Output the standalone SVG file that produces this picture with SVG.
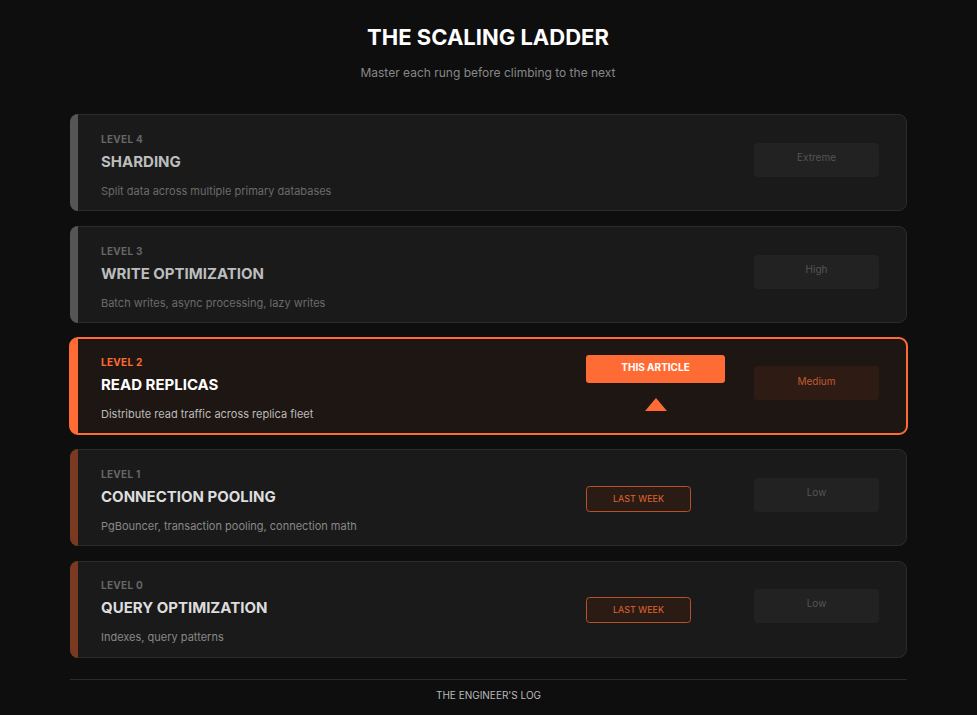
<svg xmlns="http://www.w3.org/2000/svg" width="977" height="715" viewBox="0 0 977 715">
<style>
text{font-family:Inter,"Liberation Sans",sans-serif}
.card{fill:#1a1a1a;stroke:#2c2c2c;stroke-width:1}
.lvl{font-size:10px;font-weight:700;fill:#666;letter-spacing:0.3px}
.ttl{font-size:15px;font-weight:700;fill:#bdbdbd}
.dsc{font-size:11px;fill:#6a6a6a}
.badge{fill:#222}
.btxt{font-size:10px;fill:#555;text-anchor:middle}
.lw{fill:#2a1c15;stroke:#b5522a;stroke-width:1}
.lwt{font-size:9px;fill:#e0652f;text-anchor:middle}
</style>
<defs>
<clipPath id="c4"><rect x="70" y="114" width="837" height="97" rx="8"/></clipPath>
<clipPath id="c3"><rect x="70" y="226" width="837" height="97" rx="8"/></clipPath>
<clipPath id="c2"><rect x="70" y="338" width="837" height="96" rx="8"/></clipPath>
<clipPath id="c1"><rect x="70" y="449" width="837" height="97" rx="8"/></clipPath>
<clipPath id="c0"><rect x="70" y="561" width="837" height="97" rx="8"/></clipPath>
</defs>
<rect width="977" height="715" fill="#0e0e0e"/>
<g id="header">
<text x="488" y="45" text-anchor="middle" font-size="22" font-weight="700" fill="#fff">THE SCALING LADDER</text>
<text x="488" y="77" text-anchor="middle" font-size="12" fill="#888">Master each rung before climbing to the next</text>
</g>
<g id="level4">
<rect class="card" x="70.5" y="114.5" width="836" height="96" rx="8"/>
<rect x="70" y="114" width="8" height="97" fill="#555" clip-path="url(#c4)"/>
<text class="lvl" x="101" y="143">LEVEL 4</text>
<text class="ttl" x="101" y="167">SHARDING</text>
<text class="dsc" x="101" y="195">Split data across multiple primary databases</text>
<rect class="badge" x="754" y="143" width="125" height="34" rx="4"/>
<text class="btxt" x="816.5" y="161">Extreme</text>
</g>
<g id="level3">
<rect class="card" x="70.5" y="226.5" width="836" height="96" rx="8"/>
<rect x="70" y="226" width="8" height="97" fill="#555" clip-path="url(#c3)"/>
<text class="lvl" x="101" y="255">LEVEL 3</text>
<text class="ttl" x="101" y="279">WRITE OPTIMIZATION</text>
<text class="dsc" x="101" y="307">Batch writes, async processing, lazy writes</text>
<rect class="badge" x="754" y="255" width="125" height="34" rx="4"/>
<text class="btxt" x="816.5" y="273">High</text>
</g>
<g id="level2">
<rect x="70" y="338" width="837" height="96" rx="8" fill="#1e1612" stroke="#ff6b35" stroke-width="2"/>
<rect x="70" y="338" width="8" height="96" fill="#ff6b35" clip-path="url(#c2)"/>
<text class="lvl" x="101" y="366" style="fill:#ff6b35">LEVEL 2</text>
<text class="ttl" x="101" y="390" style="fill:#fff">READ REPLICAS</text>
<text class="dsc" x="101" y="418" style="fill:#bbb">Distribute read traffic across replica fleet</text>
<rect x="586" y="355" width="139" height="28" rx="3" fill="#ff6b35"/>
<text x="655.5" y="370.5" text-anchor="middle" font-size="10" font-weight="700" fill="#fff">THIS ARTICLE</text>
<polygon points="656,398 667,411 645,411" fill="#ff6b35"/>
<rect x="754" y="366" width="125" height="34" rx="4" fill="#2e1c14"/>
<text class="btxt" x="816.5" y="384.5" style="fill:#c25a2e">Medium</text>
</g>
<g id="level1">
<rect class="card" x="70.5" y="449.5" width="836" height="96" rx="8"/>
<rect x="70" y="449" width="8" height="97" fill="#7a3a22" clip-path="url(#c1)"/>
<text class="lvl" x="101" y="478">LEVEL 1</text>
<text class="ttl" x="101" y="502" style="fill:#ddd">CONNECTION POOLING</text>
<text class="dsc" x="101" y="530" style="fill:#888">PgBouncer, transaction pooling, connection math</text>
<rect class="lw" x="586.5" y="486.5" width="104" height="25" rx="3"/>
<text class="lwt" x="638.5" y="501.5">LAST WEEK</text>
<rect class="badge" x="754" y="478" width="125" height="34" rx="4"/>
<text class="btxt" x="816.5" y="496">Low</text>
</g>
<g id="level0">
<rect class="card" x="70.5" y="561.5" width="836" height="96" rx="8"/>
<rect x="70" y="561" width="8" height="97" fill="#7a3a22" clip-path="url(#c0)"/>
<text class="lvl" x="101" y="589">LEVEL 0</text>
<text class="ttl" x="101" y="613" style="fill:#ddd">QUERY OPTIMIZATION</text>
<text class="dsc" x="101" y="641" style="fill:#888">Indexes, query patterns</text>
<rect class="lw" x="586.5" y="597.5" width="104" height="25" rx="3"/>
<text class="lwt" x="638.5" y="612.5">LAST WEEK</text>
<rect class="badge" x="754" y="589" width="125" height="34" rx="4"/>
<text class="btxt" x="816.5" y="607">Low</text>
</g>
<g id="footer">
<line x1="70" y1="679.5" x2="907" y2="679.5" stroke="#2a2a2a" stroke-width="1"/>
<text x="488.5" y="699" text-anchor="middle" font-size="10" fill="#bbb">THE ENGINEER'S LOG</text>
</g>
</svg>
